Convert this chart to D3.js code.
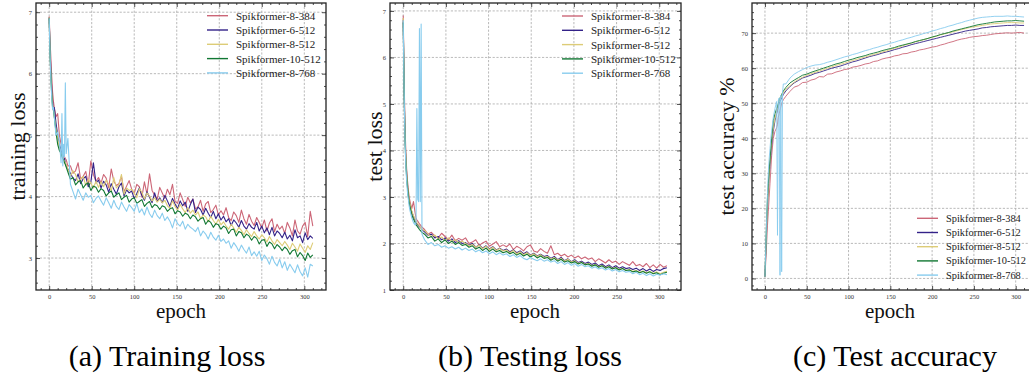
<!DOCTYPE html>
<html><head><meta charset="utf-8">
<script src="https://cdn.jsdelivr.net/npm/d3@7"></script>
<style>
html,body{margin:0;padding:0;background:#fff;}
svg{display:block;}
</style></head>
<body>
<svg id="chart" width="1029" height="376"></svg>
<script>
// ---------------- DATA ----------------
const seriesNames = ["Spikformer-8-384","Spikformer-6-512","Spikformer-8-512","Spikformer-10-512","Spikformer-8-768"];
const seriesColors = ["#CC6677","#332288","#DDCC77","#117733","#88CCEE"];
const xTicks = [0,50,100,150,200,250,300];
const yTicksA = [3,4,5,6,7];
const yTicksB = [1,2,3,4,5,6,7];
const yTicksC = [0,10,20,30,40,50,60,70];

const epochsA = [0,1,2,3,4,5,6,8,10,12,14,15,16,17,18,19,20,22].concat(d3.range(25,311,3));
const epochsB = [0,1,2,3,4,5,6,7,8,10,12,14,15,16,17,18,19,20,21,22].concat(d3.range(25,311,4));
const epochsC = [0,1,2,3,4,5,6,7,8,10,12,14,15,16,17,18,19,20,21,22].concat(d3.range(25,311,5));

// (a) training loss
const train_8_384 = [6.93,6.55,6.25,5.95,5.70,5.55,5.45,5.30,5.35,5.00,4.85,4.80,4.75,4.70,4.65,4.62,4.60,4.50,
 4.50,4.38,4.42,4.55,4.28,4.33,4.41,4.20,4.58,4.36,4.25,4.31,
 4.22,4.36,4.30,4.14,4.45,4.25,4.18,4.21,4.33,4.08,4.17,4.26,
 4.12,4.05,4.20,4.16,3.99,4.24,4.04,4.37,4.10,4.02,3.96,4.15,
 4.06,3.97,4.12,4.03,4.20,3.92,3.89,4.06,3.95,3.84,3.99,3.90,
 3.96,3.80,3.83,3.94,3.76,3.88,3.92,3.74,3.79,3.86,3.70,3.77,
 3.70,3.82,3.66,3.61,3.75,3.69,3.58,3.78,3.64,3.55,3.71,3.60,
 3.53,3.66,3.58,3.49,3.62,3.44,3.57,3.64,3.43,3.55,3.47,3.52,
 3.40,3.58,3.49,3.36,3.62,3.44,3.39,3.52,3.58,3.35,3.76,3.52];
const train_6_512 = [6.92,6.40,6.05,5.75,5.55,5.40,5.45,5.20,5.00,4.85,4.75,4.70,4.68,4.60,4.62,4.55,4.50,4.45,
 4.38,4.30,4.26,4.37,4.21,4.29,4.33,4.16,4.24,4.55,4.22,4.27,
 4.14,4.25,4.19,4.07,4.21,4.12,4.04,4.16,4.22,4.01,4.11,4.06,
 4.09,3.97,4.05,4.14,4.02,3.94,4.08,3.99,3.90,4.06,3.92,3.98,
 3.90,4.02,3.93,3.84,3.97,3.88,3.80,3.93,3.85,3.91,3.76,3.87,
 3.96,3.74,3.83,3.79,3.70,3.81,3.73,3.66,3.76,3.64,3.72,3.62,
 3.68,3.59,3.64,3.53,3.62,3.57,3.50,3.61,3.52,3.47,3.56,3.50,
 3.47,3.58,3.44,3.52,3.41,3.49,3.38,3.50,3.36,3.44,3.40,3.33,
 3.42,3.31,3.37,3.28,3.46,3.33,3.36,3.25,3.41,3.30,3.36,3.32];
const train_8_512 = [6.92,6.35,6.00,5.70,5.50,5.40,5.30,5.10,4.95,4.80,4.70,4.68,4.65,4.60,4.58,4.55,4.52,4.45,
 4.33,4.42,4.36,4.24,4.29,4.33,4.18,4.28,4.22,4.14,4.25,4.15,
 4.24,4.16,4.27,4.20,4.09,4.31,4.14,4.19,4.36,4.04,4.14,4.10,
 4.12,4.06,3.98,4.13,4.07,3.96,4.06,4.01,3.93,3.98,3.91,3.96,
 3.90,3.94,3.85,3.81,3.93,3.84,3.78,3.87,3.80,3.74,3.82,3.73,
 3.78,3.70,3.75,3.64,3.70,3.67,3.59,3.68,3.61,3.55,3.63,3.54,
 3.59,3.52,3.47,3.55,3.49,3.42,3.50,3.45,3.38,3.46,3.40,3.35,
 3.43,3.36,3.31,3.38,3.33,3.26,3.35,3.28,3.22,3.30,3.25,3.20,
 3.27,3.21,3.14,3.24,3.18,3.11,3.23,3.16,3.09,3.20,3.14,3.25];
const train_10_512 = [6.90,6.30,5.95,5.65,5.45,5.42,5.30,5.05,4.85,4.75,4.70,4.65,4.62,4.60,4.55,4.52,4.48,4.40,
 4.28,4.31,4.19,4.24,4.26,4.14,4.20,4.22,4.10,4.17,4.15,4.07,
 4.13,4.10,4.01,4.06,4.09,3.99,4.03,4.06,3.95,3.99,4.02,3.91,
 3.96,3.98,3.89,3.92,3.95,3.84,3.89,3.92,3.82,3.87,3.85,3.79,
 3.85,3.83,3.76,3.80,3.82,3.72,3.77,3.75,3.68,3.73,3.71,3.64,
 3.70,3.67,3.60,3.64,3.66,3.55,3.61,3.58,3.50,3.56,3.54,3.47,
 3.52,3.49,3.40,3.46,3.47,3.36,3.43,3.41,3.33,3.39,3.36,3.29,
 3.35,3.32,3.23,3.29,3.30,3.19,3.26,3.23,3.15,3.22,3.18,3.12,
 3.18,3.14,3.06,3.12,3.14,3.02,3.09,3.04,2.96,3.08,3.01,3.05];
const train_8_768 = [6.90,6.30,5.90,5.60,5.42,5.45,5.30,5.00,5.05,4.90,4.55,5.35,4.50,4.85,4.65,5.85,4.70,4.95,
 4.20,4.08,3.96,4.12,4.03,3.94,4.06,3.99,4.02,3.90,3.97,4.01,
 3.93,3.86,3.98,3.90,3.81,3.94,3.84,3.79,3.91,3.83,3.76,3.87,
 3.82,3.76,3.89,3.74,3.80,3.70,3.83,3.72,3.66,3.78,3.69,3.64,
 3.73,3.61,3.67,3.60,3.49,3.64,3.56,3.52,3.60,3.47,3.55,3.50,
 3.47,3.43,3.50,3.36,3.44,3.39,3.31,3.42,3.34,3.29,3.37,3.27,
 3.31,3.24,3.28,3.16,3.25,3.19,3.11,3.21,3.14,3.08,3.18,3.04,
 3.10,3.03,3.11,2.96,3.05,2.99,2.90,3.03,2.93,2.87,2.98,2.84,
 2.94,2.80,2.90,2.83,2.76,2.89,2.78,2.71,2.84,2.69,2.90,2.87];

// (b) test loss
const test_8_384 = [6.90,5.60,4.60,4.00,3.60,3.35,3.15,3.00,2.90,2.75,2.90,2.65,2.55,2.50,2.48,2.45,2.42,2.40,2.38,2.35,
 2.30,2.20,2.24,2.16,2.12,2.22,2.15,2.08,2.18,2.06,2.11,2.07,
 2.12,2.00,2.03,2.08,1.96,2.01,2.05,1.94,1.99,2.04,1.93,1.97,
 1.93,1.99,1.87,1.94,1.90,1.84,1.93,1.97,1.84,1.81,1.89,1.83,
 1.79,1.95,1.76,1.79,1.73,1.77,1.71,1.75,1.69,1.73,1.67,1.71,
 1.66,1.69,1.61,1.67,1.63,1.58,1.65,1.59,1.62,1.55,1.61,1.57,
 1.53,1.61,1.52,1.55,1.50,1.57,1.48,1.54,1.47,1.55,1.49,1.52];
const test_6_512 = [6.80,5.40,4.40,3.85,3.50,3.25,3.05,2.92,2.82,2.68,2.58,2.50,2.45,2.42,2.40,2.38,2.36,2.35,2.33,2.30,
 2.25,2.18,2.20,2.12,2.15,2.08,2.12,2.05,2.10,2.02,2.06,2.00,
 2.02,1.96,2.00,1.92,1.97,1.90,1.95,1.88,1.93,1.86,1.90,1.85,
 1.88,1.82,1.86,1.80,1.84,1.78,1.82,1.75,1.79,1.73,1.77,1.72,
 1.74,1.68,1.72,1.65,1.70,1.63,1.67,1.61,1.65,1.59,1.62,1.57,
 1.60,1.55,1.58,1.52,1.56,1.50,1.54,1.48,1.52,1.47,1.50,1.46,
 1.48,1.44,1.47,1.42,1.46,1.41,1.45,1.40,1.44,1.42,1.46,1.48];
const test_8_512 = [6.85,5.45,4.45,3.90,3.52,3.28,3.08,2.95,2.85,2.70,2.60,2.52,2.48,2.45,2.42,2.40,2.38,2.35,2.33,2.30,
 2.28,2.20,2.15,2.18,2.10,2.14,2.06,2.12,2.04,2.08,2.02,2.05,
 2.00,1.95,1.98,1.92,1.96,1.89,1.94,1.87,1.92,1.85,1.89,1.84,
 1.86,1.80,1.85,1.78,1.82,1.76,1.80,1.74,1.78,1.72,1.76,1.70,
 1.72,1.66,1.70,1.64,1.68,1.62,1.66,1.60,1.63,1.57,1.60,1.55,
 1.57,1.52,1.55,1.50,1.53,1.48,1.51,1.46,1.49,1.44,1.47,1.42,
 1.44,1.40,1.42,1.38,1.41,1.37,1.40,1.36,1.39,1.35,1.38,1.40];
const test_10_512 = [6.75,5.30,4.30,3.75,3.42,3.20,3.02,2.88,2.78,2.62,2.52,2.45,2.40,2.38,2.35,2.33,2.30,2.28,2.26,2.24,
 2.20,2.12,2.15,2.05,2.10,2.02,2.08,2.00,2.05,1.98,2.02,1.96,
 1.98,1.92,1.95,1.88,1.92,1.85,1.90,1.83,1.88,1.82,1.85,1.80,
 1.83,1.78,1.81,1.75,1.79,1.73,1.77,1.71,1.75,1.69,1.73,1.68,
 1.70,1.64,1.68,1.62,1.66,1.60,1.63,1.58,1.61,1.56,1.59,1.54,
 1.56,1.51,1.54,1.49,1.52,1.47,1.50,1.45,1.48,1.43,1.46,1.42,
 1.43,1.39,1.41,1.37,1.40,1.36,1.39,1.35,1.37,1.33,1.36,1.38];
const test_8_768 = [6.80,5.30,4.30,3.70,3.35,3.10,2.95,2.80,2.70,2.55,2.45,2.40,2.45,4.90,2.95,2.90,6.62,2.90,6.72,2.20,
 2.08,1.98,2.02,1.95,1.98,1.92,1.95,1.90,1.93,1.88,1.92,1.86,
 1.90,1.85,1.88,1.82,1.86,1.80,1.84,1.78,1.82,1.76,1.80,1.75,
 1.78,1.72,1.76,1.70,1.74,1.68,1.65,1.70,1.66,1.63,1.67,1.62,
 1.65,1.60,1.63,1.57,1.61,1.55,1.59,1.53,1.57,1.51,1.55,1.50,
 1.52,1.47,1.50,1.45,1.48,1.43,1.46,1.41,1.44,1.39,1.42,1.38,
 1.40,1.35,1.38,1.33,1.36,1.31,1.35,1.30,1.34,1.32,1.35,1.33];

// (c) test accuracy
const acc_8_384 = [0.5,5,10,15,19,23,27,31,35,40,42,43,44,46,47,48,49,50,50.5,51,
 52.0,53.4,54.6,55.0,55.9,56.0,56.6,56.9,57.6,57.5,58.3,58.4,
 58.9,59.2,59.6,59.8,60.3,60.5,60.8,61.2,61.4,61.9,62.1,62.6,
 62.9,63.1,63.5,63.7,64.1,64.2,64.6,64.8,65.2,65.4,65.7,66.0,
 66.2,66.6,66.9,67.3,67.6,68.0,68.3,68.5,68.8,69.0,69.1,69.3,
 69.4,69.6,69.8,69.9,70.0,70.1,70.0,70.1,70.2,70.0];
const acc_6_512 = [0.5,7,14,20,25,29,32,35,38,42,45,47,48,49,50,50.5,51,51.5,52,52.5,
 53.5,54.8,55.8,56.5,57.2,57.6,58.0,58.5,58.8,59.2,59.6,60.0,
 60.3,60.6,61.0,61.4,61.8,62.1,62.5,62.9,63.3,63.6,63.9,64.3,
 64.6,64.9,65.3,65.6,66.0,66.3,66.7,67.0,67.3,67.6,67.9,68.2,
 68.5,68.8,69.1,69.4,69.7,70.0,70.3,70.6,70.8,71.0,71.2,71.5,
 71.6,71.8,71.9,72.0,72.1,72.2,72.2,72.3,72.2,72.2];
const acc_8_512 = [0.5,7,14,20,25,29,33,36,39,43,45.5,47.5,48.5,49.5,50.5,51,51.5,52,52.5,53,
 54.0,55.0,56.0,56.8,57.4,58.0,58.4,58.8,59.2,59.6,60.0,60.4,
 60.8,61.1,61.4,61.8,62.2,62.5,62.9,63.2,63.6,63.9,64.2,64.6,
 64.9,65.3,65.7,66.0,66.4,66.8,67.1,67.5,67.8,68.1,68.5,68.8,
 69.1,69.5,69.8,70.1,70.4,70.7,71.0,71.3,71.6,71.8,72.0,72.2,
 72.4,72.6,72.7,72.8,72.9,73.0,73.0,73.0,72.9,72.9];
const acc_10_512 = [0.5,9,17,23,27,31,34,37,40,45,47,48.5,49,50,51,51.5,52,52.5,53,53.5,
 54.5,55.8,56.6,57.3,58.0,58.3,58.8,59.2,59.6,60.0,60.4,60.8,
 61.2,61.5,61.9,62.3,62.6,63.0,63.3,63.6,64.0,64.3,64.6,65.0,
 65.3,65.6,65.9,66.3,66.6,66.9,67.2,67.6,67.9,68.2,68.5,68.9,
 69.2,69.6,69.9,70.2,70.6,70.9,71.2,71.5,71.8,72.1,72.4,72.6,
 72.8,73.0,73.2,73.3,73.4,73.5,73.5,73.6,73.5,73.4];
const acc_8_768 = [0.5,9,17,24,30,34,37,40,42,46,48.5,50.5,12.3,50.8,51.5,0.9,52.3,1.9,53,55.5,
 55.5,57.2,58.3,59.0,59.6,60.2,60.6,60.9,61.0,61.3,61.7,62.0,
 62.4,62.8,63.2,63.5,63.9,64.2,64.6,65.0,65.3,65.7,66.0,66.4,
 66.7,67.1,67.4,67.8,68.1,68.5,68.8,69.2,69.5,69.9,70.2,70.6,
 70.9,71.3,71.6,72.0,72.3,72.7,73.0,73.4,73.7,74.0,74.3,74.5,
 74.6,74.7,74.8,74.8,74.8,74.9,74.8,74.8,74.7,74.6];

// ---------------- DRAW ----------------
const svg = d3.select("#chart");
const SERIF = "'Liberation Serif','Times New Roman',serif";

function panel(cfg){
  const g = svg.append("g");
  const x = d3.scaleLinear().domain([-15.5,325.5]).range([cfg.left,cfg.right]);
  const y = d3.scaleLinear().domain(cfg.ydom).range([cfg.bottom,cfg.top]);
  const id = "clip"+cfg.key;
  svg.append("clipPath").attr("id",id).append("rect")
    .attr("x",cfg.left).attr("y",cfg.top).attr("width",cfg.right-cfg.left).attr("height",cfg.bottom-cfg.top);

  // grid
  const grid = g.append("g").attr("stroke","#a8a8a8").attr("stroke-width",0.8).attr("stroke-dasharray","2.2,1.6");
  xTicks.forEach(t=>grid.append("line").attr("x1",x(t)).attr("x2",x(t)).attr("y1",cfg.top).attr("y2",cfg.bottom));
  cfg.yticks.forEach(t=>grid.append("line").attr("y1",y(t)).attr("y2",y(t)).attr("x1",cfg.left).attr("x2",cfg.right));

  // lines
  const lg = g.append("g").attr("clip-path",`url(#${id})`);
  cfg.series.forEach((s,i)=>{
    const line = d3.line().x((d,j)=>x(cfg.epochs[j])).y(d=>y(d));
    lg.append("path").datum(s).attr("d",line).attr("fill","none")
      .attr("stroke",seriesColors[i]).attr("stroke-width",cfg.lw).attr("stroke-linejoin","round");
  });

  // axes with inward ticks
  const fmt = d3.format("d");
  const minorX = d3.range(-10,326,10).filter(v=>v%50!==0);
  const minorY = cfg.minorY;
  function styleAxis(sel, showLabels){
    sel.select(".domain").remove();
    sel.selectAll(".tick line").attr("stroke","#222").attr("stroke-width",0.8);
    sel.selectAll(".tick text").attr("font-family",SERIF).attr("font-size","6.5px").attr("fill","#333");
    if(!showLabels) sel.selectAll(".tick text").remove();
  }
  const ax = [
    [d3.axisBottom(x).tickValues(xTicks).tickSize(-4).tickPadding(4).tickFormat(fmt), `translate(0,${cfg.bottom})`, true],
    [d3.axisBottom(x).tickValues(minorX).tickSize(-2).tickFormat(""), `translate(0,${cfg.bottom})`, false],
    [d3.axisTop(x).tickValues(xTicks).tickSize(-4).tickFormat(""), `translate(0,${cfg.top})`, false],
    [d3.axisTop(x).tickValues(minorX).tickSize(-2).tickFormat(""), `translate(0,${cfg.top})`, false],
    [d3.axisLeft(y).tickValues(cfg.yticks).tickSize(-4).tickPadding(4).tickFormat(fmt), `translate(${cfg.left},0)`, true],
    [d3.axisLeft(y).tickValues(minorY).tickSize(-2).tickFormat(""), `translate(${cfg.left},0)`, false],
    [d3.axisRight(y).tickValues(cfg.yticks).tickSize(-4).tickFormat(""), `translate(${cfg.right},0)`, false],
    [d3.axisRight(y).tickValues(minorY).tickSize(-2).tickFormat(""), `translate(${cfg.right},0)`, false]
  ];
  ax.forEach(([a,tr,lab])=>{
    const s = g.append("g").attr("transform",tr).call(a);
    styleAxis(s,lab);
  });

  // frame
  g.append("rect").attr("x",cfg.left).attr("y",cfg.top).attr("width",cfg.right-cfg.left).attr("height",cfg.bottom-cfg.top)
    .attr("fill","none").attr("stroke","#222").attr("stroke-width",1.3);

  // labels
  g.append("text").attr("transform",`translate(${cfg.ylabX},${(cfg.top+cfg.bottom)/2}) rotate(-90)`)
    .attr("text-anchor","middle").attr("dominant-baseline","central")
    .attr("font-family",SERIF).attr("font-size","22px").attr("fill","#111").text(cfg.ylabel);
  g.append("text").attr("x",cfg.xlabX).attr("y",318).attr("text-anchor","middle")
    .attr("font-family",SERIF).attr("font-size","21px").attr("fill","#111").text("epoch");
  g.append("text").attr("x",cfg.capX).attr("y",366).attr("text-anchor","middle")
    .attr("font-family",SERIF).attr("font-size","30px").attr("fill","#000").text(cfg.caption);

  // legend
  const leg = g.append("g");
  seriesNames.forEach((n,i)=>{
    const yy = cfg.legY + i*cfg.legDy;
    leg.append("line").attr("x1",cfg.legX).attr("x2",cfg.legX+21).attr("y1",yy).attr("y2",yy)
      .attr("stroke",seriesColors[i]).attr("stroke-width",1.4);
    leg.append("text").attr("x",cfg.legX+29).attr("y",yy).attr("dominant-baseline","central")
      .attr("font-family",SERIF).attr("font-size",cfg.legFont+"px").attr("fill","#222").text(n);
  });
}

panel({key:"a",left:36,right:326,top:3,bottom:290,ydom:[2.48,7.15],yticks:yTicksA,minorY:d3.range(2.6,7.15,0.2).map(v=>+v.toFixed(1)).filter(v=>Math.abs(v-Math.round(v))>0.01),
  epochs:epochsA,series:[train_8_384,train_6_512,train_8_512,train_10_512,train_8_768],lw:1.1,
  ylabel:"training loss",ylabX:17,xlabX:181,capX:167,caption:"(a) Training loss",legX:207,legY:15.7,legDy:14.3,legFont:11});
panel({key:"b",left:390,right:681,top:3,bottom:290,ydom:[1.0,7.17],yticks:yTicksB,minorY:d3.range(1.2,7.15,0.2).map(v=>+v.toFixed(1)).filter(v=>Math.abs(v-Math.round(v))>0.01),
  epochs:epochsB,series:[test_8_384,test_6_512,test_8_512,test_10_512,test_8_768],lw:1.1,
  ylabel:"test loss",ylabX:374,xlabX:535,capX:530,caption:"(b) Testing loss",legX:562,legY:16,legDy:14.3,legFont:11});
panel({key:"c",left:752,right:1037,top:3,bottom:290,ydom:[-3.3,78.6],yticks:yTicksC,minorY:d3.range(-2,78,2).filter(v=>v%10!==0),
  epochs:epochsC,series:[acc_8_384,acc_6_512,acc_8_512,acc_10_512,acc_8_768],lw:0.9,
  ylabel:"test accuracy %",ylabX:726,xlabX:890,capX:895,caption:"(c) Test accuracy",legX:917,legY:218.3,legDy:14.2,legFont:10.4});
</script>
</body></html>
